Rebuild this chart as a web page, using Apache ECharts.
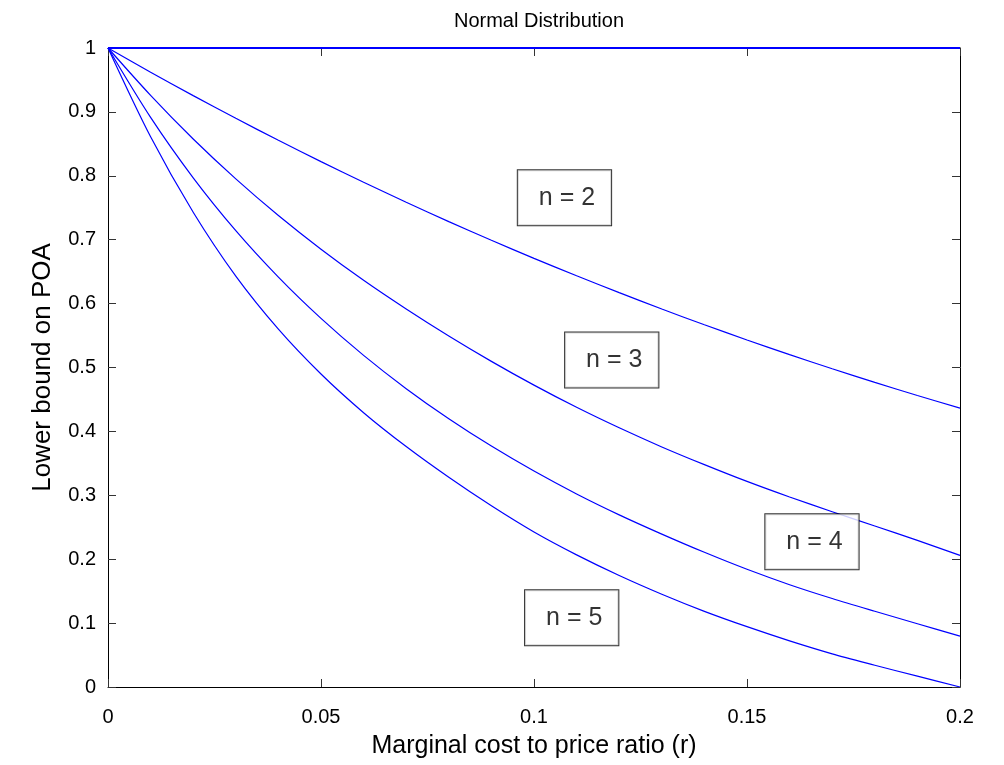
<!DOCTYPE html>
<html>
<head>
<meta charset="utf-8">
<title>Normal Distribution</title>
<script src="https://cdn.jsdelivr.net/npm/echarts@6/dist/echarts.min.js"></script>
<style>
	html, body { margin: 0; padding: 0; background: #fff; }
	#chart { width: 1004px; height: 765px; }
</style>
</head>
<body>
<div id="chart"></div>
<script>
// marginal cost to price ratio (r), sampled every 0.01
const ratios = [ 0, 0.01, 0.02, 0.03, 0.04, 0.05, 0.06, 0.07, 0.08, 0.09, 0.1,
	0.11, 0.12, 0.13, 0.14, 0.15, 0.16, 0.17, 0.18, 0.19, 0.2 ];

// lower bound on POA
const boundN1 = [ 1, 1, 1, 1, 1, 1, 1, 1, 1, 1, 1, 1, 1, 1, 1, 1, 1, 1, 1, 1, 1 ];
const boundN2 = [ 1, 0.9622, 0.9255, 0.8900, 0.8555, 0.8222, 0.7899, 0.7586, 0.7283, 0.6991, 0.6708,
	0.6435, 0.6171, 0.5915, 0.5669, 0.5431, 0.5202, 0.4981, 0.4768, 0.4562, 0.4364 ];
const boundN3 = [ 1, 0.9259, 0.8576, 0.7952, 0.7379, 0.6852, 0.6365, 0.5916, 0.5493, 0.5096, 0.4724,
	0.4377, 0.4056, 0.3757, 0.3480, 0.3217, 0.2973, 0.2743, 0.2519, 0.2294, 0.2060 ];
const boundN4 = [ 1, 0.8914, 0.7969, 0.7142, 0.6415, 0.5769, 0.5190, 0.4669, 0.4198, 0.3770, 0.3379,
	0.3021, 0.2694, 0.2393, 0.2108, 0.1842, 0.1601, 0.1385, 0.1185, 0.0990, 0.0796 ];
const boundN5 = [ 1, 0.861, 0.743, 0.643, 0.560, 0.4898, 0.4293, 0.3763, 0.3282, 0.2836, 0.2426,
	0.2068, 0.1745, 0.1452, 0.1184, 0.0944, 0.0722, 0.0519, 0.0341, 0.0169, 0 ];

// boxed labels: text and the left-middle anchor of each box in data units
const noteTexts = [ 'n = 2', 'n = 3', 'n = 4', 'n = 5' ];
const noteAnchors = [ [ 0.0962, 0.7656 ], [ 0.1073, 0.5117 ], [ 0.1543, 0.2272 ], [ 0.0979, 0.1083 ] ];

const FONT = '"Liberation Sans", Arial, Helvetica, sans-serif';
const LINE_BLUE = '#0000ff';

function toPairs( values ) {
	return ratios.map( ( r, i ) => [ r, values[ i ] ] );
}

function lineSeries( name, values, width ) {
	return {
		name: name,
		type: 'line',
		data: toPairs( values ),
		showSymbol: false,
		smooth: 0.3,
		silent: true,
		z: 3,
		lineStyle: { color: LINE_BLUE, width: width }
	};
}

function boxAxis( position, showLabels, extra ) {
	return Object.assign( {
		type: 'value',
		position: position,
		axisLine: { show: true, onZero: false, lineStyle: { color: '#000', width: 1 } },
		axisTick: { show: true, inside: true, length: 8, lineStyle: { color: '#333', width: 1 } },
		axisLabel: { show: showLabels, color: '#000', fontFamily: FONT, fontSize: 20 },
		splitLine: { show: false }
	}, extra );
}

const chart = echarts.init( document.getElementById( 'chart' ), null, { renderer: 'canvas' } );

const noteSeries = {
	type: 'scatter',
	symbolSize: 0,
	silent: true,
	z: 5,
	data: noteAnchors.map( ( p, i ) => ( { value: p, text: noteTexts[ i ] } ) ),
	label: {
		show: true,
		position: 'right',
		distance: 0,
		formatter: ( p ) => p.data.text,
		color: '#000',
		fontFamily: FONT,
		fontSize: 25,
		lineHeight: 26,
		backgroundColor: '#fff',
		borderColor: '#000',
		borderWidth: 1,
		padding: [ 15, 16, 14, 21 ]
	}
};

chart.setOption( {
	animation: false,
	backgroundColor: '#fff',
	title: {
		text: 'Normal Distribution',
		left: 534,
		top: 6,
		textAlign: 'center',
		textStyle: { color: '#000', fontFamily: FONT, fontSize: 20, fontWeight: 'normal' }
	},
	grid: { left: 108, top: 48, width: 852, height: 639, containLabel: false },
	xAxis: [
		boxAxis( 'bottom', true, {
			min: 0, max: 0.2, interval: 0.05,
			name: 'Marginal cost to price ratio (r)',
			nameLocation: 'middle',
			nameGap: 47,
			nameTextStyle: { color: '#000', fontFamily: FONT, fontSize: 25 },
			axisLabel: { show: true, color: '#000', fontFamily: FONT, fontSize: 20, margin: 20 }
		} ),
		boxAxis( 'top', false, { min: 0, max: 0.2, interval: 0.05 } )
	],
	yAxis: [
		boxAxis( 'left', true, {
			min: 0, max: 1, interval: 0.1,
			name: 'Lower bound on POA',
			nameLocation: 'middle',
			nameGap: 52,
			nameTextStyle: { color: '#000', fontFamily: FONT, fontSize: 26 },
			axisLabel: { show: true, color: '#000', fontFamily: FONT, fontSize: 20, margin: 12 }
		} ),
		boxAxis( 'right', false, { min: 0, max: 1, interval: 0.1 } )
	],
	series: [
		lineSeries( 'n = 1', boundN1, 2 ),
		lineSeries( 'n = 2', boundN2, 1.2 ),
		lineSeries( 'n = 3', boundN3, 1.2 ),
		lineSeries( 'n = 4', boundN4, 1.2 ),
		lineSeries( 'n = 5', boundN5, 1.2 ),
		noteSeries
	]
} );
</script>
</body>
</html>
